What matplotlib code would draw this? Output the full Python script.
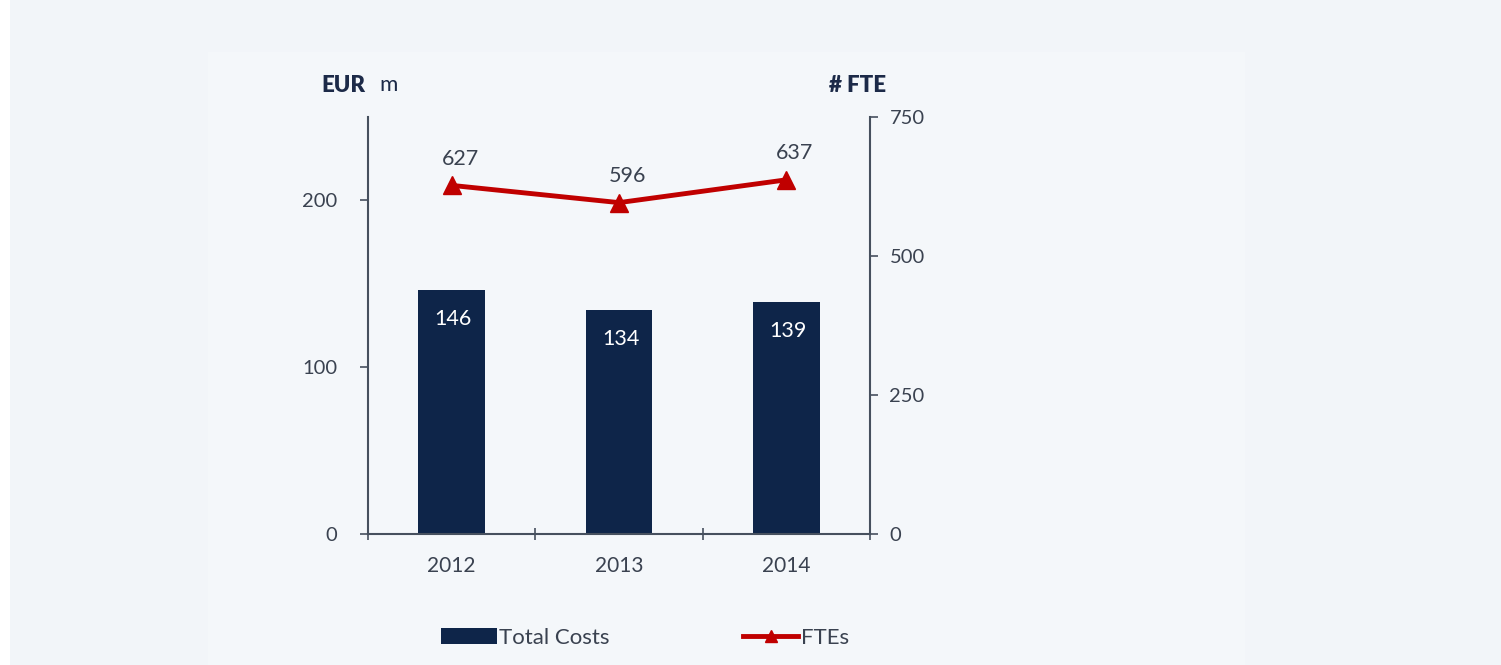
import matplotlib
matplotlib.use("Agg")
import matplotlib.pyplot as plt
from matplotlib.patches import Rectangle, Patch
from matplotlib.lines import Line2D

years = ["2012", "2013", "2014"]
total_costs = [146, 134, 139]
ftes = [627, 596, 637]
left_ticks = [0, 100, 200]
right_ticks = [0, 250, 500, 750]

BG = "#f2f5f9"
NAVY = "#0e2549"
RED = "#c00000"
TXT = "#3a4250"
SPINE = "#46505e"

plt.rcParams['font.family'] = ['Lato', 'DejaVu Sans']

fig = plt.figure(figsize=(15.01, 6.65), dpi=100)
fig.patch.set_facecolor(BG)
fig.add_artist(Rectangle((0, 0), 10/1501, 1, transform=fig.transFigure, facecolor="white", edgecolor="none"))
fig.add_artist(Rectangle((208/1501, 0), (1245-208)/1501, 1-52/665, transform=fig.transFigure,
                         facecolor="#f4f7fa", edgecolor="none", zorder=0))

ax = fig.add_axes([368/1501, 1-534/665, (870-368)/1501, (534-117)/665])
ax.set_facecolor("none")
x = list(range(len(years)))
ax.bar(x, total_costs, width=0.4, color=NAVY, zorder=2)
ax.set_xlim(-0.5, 2.5)
ax.set_ylim(0, 250)
ax.set_yticks(left_ticks)
ax.set_xticks([-0.5, 0.5, 1.5, 2.5])
ax.set_xticklabels([])
ax.set_xticks(x, minor=True)
ax.set_xticklabels(years, minor=True)
ax.tick_params(axis='x', which='minor', length=0, pad=16, labelsize=15, labelcolor=TXT)
ax.tick_params(axis='x', which='major', direction='inout', length=8, color=SPINE, width=1.2)
ax.tick_params(axis='y', direction='out', length=6, color=SPINE, width=1.2, labelsize=14.5, labelcolor=TXT, pad=16)
for s in ['top', 'right']:
    ax.spines[s].set_visible(False)
for s in ['left', 'bottom']:
    ax.spines[s].set_color(SPINE)
    ax.spines[s].set_linewidth(1.5)
for xi, v in zip(x, total_costs):
    ax.text(xi + 0.01, v - 17, str(v), ha='center', va='center', color='white', fontsize=15.5, zorder=3)

ax2 = ax.twinx()
ax2.set_ylim(0, 750)
ax2.set_yticks(right_ticks)
ax2.plot(x, ftes, color=RED, lw=3.5, marker='^', markersize=13, zorder=4)
for s in ['top', 'left', 'bottom']:
    ax2.spines[s].set_visible(False)
ax2.spines['right'].set_color(SPINE)
ax2.spines['right'].set_linewidth(1.5)
ax2.tick_params(axis='y', direction='out', length=6, color=SPINE, width=1.2, labelsize=14.5, labelcolor=TXT, pad=8)
for xi, v in zip(x, ftes):
    ax2.text(xi + 0.05, v + 48, str(v), ha='center', va='center', color=TXT, fontsize=15.5)

fig.text(321/1501, 1-85/665, "EUR", fontsize=16, fontweight='heavy', color="#1c2a48", va='center', ha='left')
fig.text(379/1501, 1-85/665, "m", fontsize=16, color="#1c2a48", va='center', ha='left')
fig.text(829/1501, 1-85/665, "# FTE", fontsize=16, fontweight='heavy', color="#1c2a48", va='center', ha='left')

handles = [Patch(facecolor=NAVY, edgecolor='none'),
           Line2D([0], [0], color=RED, lw=3.5, marker='^', markersize=9)]
fig.legend(handles, ["Total Costs", "FTEs"], loc='center', bbox_to_anchor=(645/1501, 1-638/665),
           ncol=2, frameon=False, fontsize=16, handlelength=2.5, handletextpad=0.1,
           columnspacing=6, labelcolor=TXT)

fig.savefig("out.png", dpi=100, facecolor=fig.get_facecolor())
